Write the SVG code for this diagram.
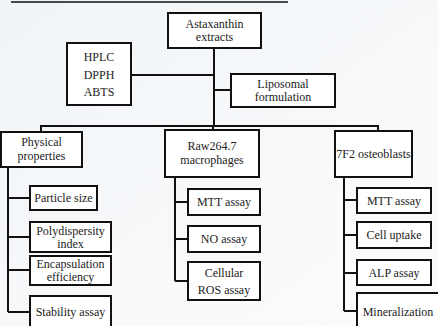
<svg xmlns="http://www.w3.org/2000/svg" width="438" height="326" viewBox="0 0 438 326">
<defs>
<linearGradient id="bg" x1="0" y1="0" x2="1" y2="1">
<stop offset="0" stop-color="#f1f4f7"/>
<stop offset="1" stop-color="#fbfcfd"/>
</linearGradient>
<style>
.box{fill:#ffffff;stroke:#111;stroke-width:2}
.t{font-family:'Liberation Serif','Times New Roman','DejaVu Serif',serif;font-size:12px;fill:#222;text-anchor:middle}
.c{stroke:#111;stroke-width:2;fill:none}
</style>
</defs>
<rect width="438" height="326" fill="url(#bg)"/>
<line x1="11" y1="2" x2="288" y2="2" stroke="#111" stroke-width="1.5"/>
<g id="connectors">
<path class="c" d="M214,48V126M131,75H214M214,90H231"/>
<path class="c" d="M41,132V126H378V131M213,126V130"/>
<path class="c" d="M8,167V312M8,198H30M8,237H30M8,270H30M8,312H30"/>
<path class="c" d="M175,177V281M175,202H188M175,239H188M175,281H188"/>
<path class="c" d="M344,177V311M344,200H357M344,235H357M344,273H357M344,311H357"/>
</g>
<g id="astaxanthin"><rect class="box" x="168" y="13" width="93" height="35"/><text class="t" x="214.5" y="28">Astaxanthin</text><text class="t" x="214.5" y="41">extracts</text></g>
<g id="hplc"><rect class="box" x="67" y="43" width="64" height="62"/><text class="t" x="99" y="61">HPLC</text><text class="t" x="99" y="79">DPPH</text><text class="t" x="99" y="96">ABTS</text></g>
<g id="liposomal"><rect class="box" x="231" y="74" width="104" height="33"/><text class="t" x="283" y="88">Liposomal</text><text class="t" x="283" y="101">formulation</text></g>
<g id="physical"><rect class="box" x="1" y="132" width="81" height="35"/><text class="t" x="41.5" y="146">Physical</text><text class="t" x="41.5" y="160">properties</text></g>
<g id="particle"><rect class="box" x="30" y="186" width="67" height="24"/><text class="t" x="63.5" y="202">Particle size</text></g>
<g id="pdi"><rect class="box" x="30" y="222" width="81" height="30"/><text class="t" x="70.5" y="235">Polydispersity</text><text class="t" x="70.5" y="248">index</text></g>
<g id="ee"><rect class="box" x="30" y="256" width="81" height="29"/><text class="t" x="70.5" y="268">Encapsulation</text><text class="t" x="70.5" y="281">efficiency</text></g>
<g id="stability"><rect class="box" x="30" y="296" width="81" height="40"/><text class="t" x="70.5" y="316">Stability assay</text></g>
<g id="raw"><rect class="box" x="165" y="130" width="94" height="47"/><text class="t" x="212" y="150">Raw264.7</text><text class="t" x="212" y="164">macrophages</text></g>
<g id="mtt1"><rect class="box" x="188" y="189" width="72" height="26"/><text class="t" x="224" y="206">MTT assay</text></g>
<g id="no"><rect class="box" x="188" y="226" width="72" height="26"/><text class="t" x="224" y="243">NO assay</text></g>
<g id="ros"><rect class="box" x="188" y="262" width="72" height="38"/><text class="t" x="224" y="277">Cellular</text><text class="t" x="224" y="294">ROS assay</text></g>
<g id="f2"><rect class="box" x="335" y="131" width="77" height="46"/><text class="t" x="373.5" y="158">7F2 osteoblasts</text></g>
<g id="mtt2"><rect class="box" x="357" y="188" width="74" height="25"/><text class="t" x="394" y="205">MTT assay</text></g>
<g id="uptake"><rect class="box" x="357" y="222" width="74" height="26"/><text class="t" x="394" y="239">Cell uptake</text></g>
<g id="alp"><rect class="box" x="357" y="260" width="74" height="25"/><text class="t" x="394" y="277">ALP assay</text></g>
<g id="mineral"><rect class="box" x="357" y="293" width="90" height="45"/><text class="t" x="398" y="316">Mineralization</text></g>
</svg>
